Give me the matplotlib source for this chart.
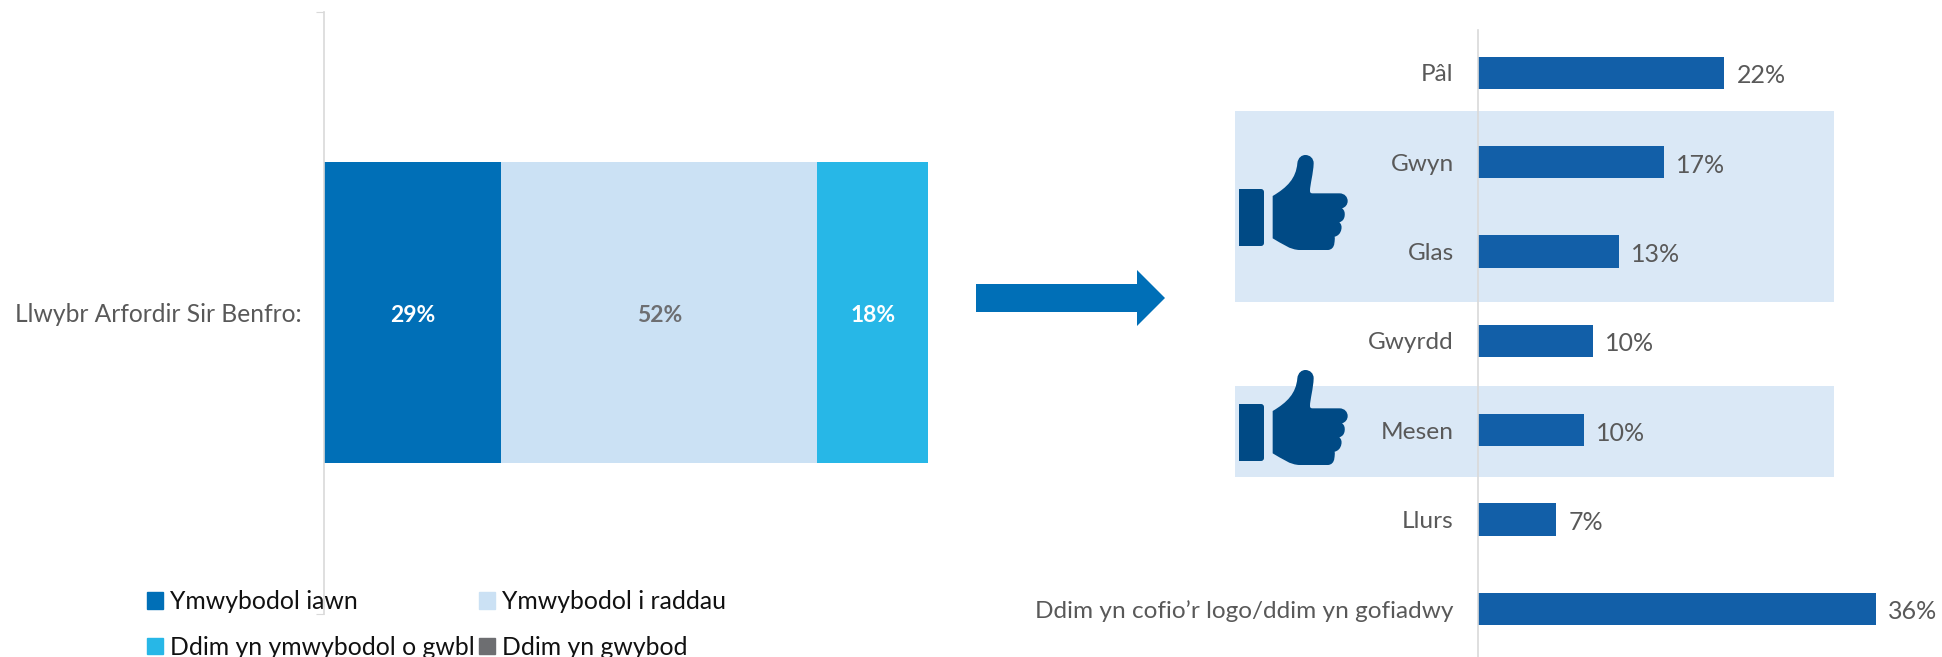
import matplotlib
matplotlib.use('Agg')
import matplotlib.pyplot as plt
from matplotlib.patches import FancyBboxPatch, Patch, PathPatch, Polygon, Rectangle
from matplotlib.path import Path

# Barra apilada de la izquierda
fila = 'Llwybr Arfordir Sir Benfro:'
series = ['Ymwybodol iawn', 'Ymwybodol i raddau', 'Ddim yn ymwybodol o gwbl', 'Ddim yn gwybod']
valores_apilados = [29.2, 52.1, 18.2, 0]
colores_apilados = ['#006FB7', '#CBE1F4', '#27B7E7', '#6D6E71']
colores_texto = ['white', '#6D6E71', 'white', 'white']

# Barras de la derecha
categorias = ['Pâl', 'Gwyn', 'Glas', 'Gwyrdd', 'Mesen', 'Llurs', 'Ddim yn cofio’r logo/ddim yn gofiadwy']
valores = [22.3, 16.8, 12.8, 10.4, 9.6, 7.1, 36.0]

ANCHO, ALTO = 1942, 657
GRIS = '#595959'
LINEA = '#D9D9D9'
AZUL_ICONO = '#004A85'
plt.rcParams['font.family'] = ['Lato', 'DejaVu Sans']

# Contorno de la mano: punto inicial y tramos (1 punto = recta, 3 puntos = curva)
MANO_INICIO = (218, 288)
MANO_TRAMOS = [
    [(262, 262), (288, 235), (292, 190)],
    [(294, 172), (306, 165), (316, 165)],
    [(330, 165), (341, 175), (341, 190)],
    [(340, 220), (330, 255), (330, 272)],
    [(330, 278), (332, 280), (338, 280)],
    [(418, 280)],
    [(435, 280), (443, 292), (443, 303)],
    [(443, 314), (436, 322), (426, 325)],
    [(434, 330), (435, 340), (434, 347)],
    [(433, 358), (427, 364), (418, 367)],
    [(424, 372), (426, 380), (424, 388)],
    [(422, 400), (414, 408), (404, 410)],
    [(405, 418), (404, 424), (403, 430)],
    [(402, 442), (394, 450), (383, 450)],
    [(300, 450)],
    [(270, 450), (245, 430), (218, 415)],
    [(218, 288)],
]


def crear_ejes(fig, izq, arriba, der, abajo):
    # Ejes a partir de su caja en pixeles de la imagen
    return fig.add_axes([izq / ANCHO, 1 - abajo / ALTO, (der - izq) / ANCHO, (abajo - arriba) / ALTO])


def pulgar(capa, dy):
    # Icono del pulgar, en pixeles de la imagen
    capa.add_patch(Rectangle((1239, 189 + dy), 12, 57, color=AZUL_ICONO, lw=0))
    capa.add_patch(FancyBboxPatch((1243, 192 + dy), 18, 51, boxstyle='round,pad=3',
                                  color=AZUL_ICONO, lw=0))
    verts = [MANO_INICIO]
    codes = [Path.MOVETO]
    for tramo in MANO_TRAMOS:
        verts += tramo
        codes += [Path.LINETO] if len(tramo) == 1 else [Path.CURVE4] * 3
    puntos = [(1200 + x / 3, 100 + y / 3 + dy) for x, y in verts]
    capa.add_patch(PathPatch(Path(puntos, codes), facecolor=AZUL_ICONO, lw=0))


fig = plt.figure(figsize=(ANCHO / 100, ALTO / 100), dpi=100)

# Capa de fondo: paneles, iconos y flecha
capa = fig.add_axes([0, 0, 1, 1], zorder=-1)
capa.set_xlim(0, ANCHO)
capa.set_ylim(ALTO, 0)
capa.axis('off')
capa.add_patch(Rectangle((1235, 111), 599, 191, color='#DAE8F6', lw=0))
capa.add_patch(Rectangle((1235, 386), 599, 91, color='#DAE8F6', lw=0))
pulgar(capa, 0)
pulgar(capa, 215)
capa.add_patch(Polygon([(976, 284), (1137, 284), (1137, 270), (1165, 298),
                        (1137, 326), (1137, 312), (976, 312)], color='#006FB7', lw=0))

# Barra apilada
ax1 = crear_ejes(fig, 324, 12, 931, 614)
ax1.patch.set_alpha(0)
inicio = 0
for nombre, valor, color, color_txt in zip(series, valores_apilados, colores_apilados, colores_texto):
    ax1.barh([0], [valor], left=inicio, height=0.5, color=color, label=nombre)
    if valor > 0:
        ax1.annotate(f'{valor:.0f}%', (inicio + valor / 2, 0), xytext=(0, -3), textcoords='offset pixels',
                     ha='center', va='center', color=color_txt, fontsize=16.5, fontweight='bold')
    inicio += valor
ax1.set_xlim(0, 100)
ax1.set_ylim(0.5, -0.5)
ax1.set_xticks([])
ax1.set_yticks([-0.5, 0.5], ['', ''])
ax1.set_yticks([0], [fila], minor=True)
ax1.tick_params(axis='y', which='major', length=6, color=LINEA)
ax1.tick_params(axis='y', which='minor', length=0, pad=16, labelsize=17.7, labelcolor=GRIS)
for lado in ['top', 'right', 'bottom']:
    ax1.spines[lado].set_visible(False)
ax1.spines['left'].set_color(LINEA)
ax1.spines['left'].set_linewidth(1.2)

# Leyenda (se rellena por columnas)
orden = [0, 2, 1, 3]
fig.legend([Patch(color=colores_apilados[i]) for i in orden], [series[i] for i in orden],
           ncol=2, frameon=False, loc='lower left', bbox_to_anchor=(135 / ANCHO, -14 / ALTO),
           fontsize=17.8, labelcolor='#111111', handlelength=0.65, handleheight=0.65,
           handletextpad=0.25, columnspacing=0.2, labelspacing=0.9, borderpad=0)

# Barras horizontales
ax2 = crear_ejes(fig, 1478, 30, 1920, 657)
ax2.patch.set_alpha(0)
pos = list(range(len(categorias)))
ax2.barh(pos, valores, height=0.36, color='#125FA8')
for p, v in zip(pos, valores):
    ax2.annotate(f'{v:.0f}%', (v, p), xytext=(12, -3), textcoords='offset pixels',
                 va='center', fontsize=18, color=GRIS)
ax2.set_xlim(0, 40)
ax2.set_ylim(6.54, -0.48)
ax2.set_xticks([])
ax2.set_yticks(pos, categorias)
ax2.tick_params(axis='y', length=0, pad=17.5, labelsize=17.6, labelcolor=GRIS)
for lado in ['top', 'right', 'bottom']:
    ax2.spines[lado].set_visible(False)
ax2.spines['left'].set_color(LINEA)
ax2.spines['left'].set_linewidth(1.2)

fig.savefig('out.png', dpi=100)
